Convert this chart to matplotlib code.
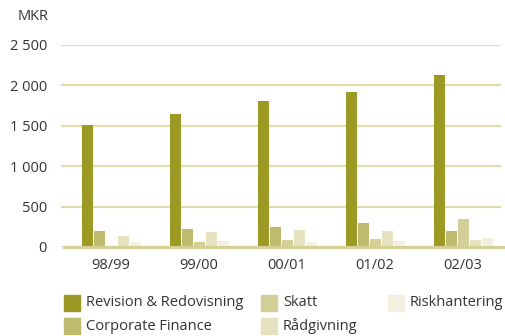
import numpy as np
import matplotlib.pyplot as plt
from matplotlib.patches import Rectangle
from matplotlib.ticker import FuncFormatter

plt.rcParams["font.family"] = ["Open Sans", "DejaVu Sans"]

years = ["98/99", "99/00", "00/01", "01/02", "02/03"]
series = ["Revision & Redovisning", "Corporate Finance", "Skatt", "Rådgivning", "Riskhantering"]
revision = [1510, 1650, 1810, 1920, 2130]
corporate = [200, 225, 250, 300, 200]
skatt = [0, 60, 85, 100, 345]
radgivning = [140, 185, 210, 200, 85]
risk = [60, 75, 60, 75, 110]
colors = ["#9c9a24", "#bfbb6e", "#d4cf96", "#e6e2c0", "#f3f0e2"]

W, H = 505, 336
fs = 10.5
fig = plt.figure(figsize=(W / 100, H / 100), dpi=100)
ax = fig.add_axes([61 / W, (H - 247) / H, 440 / W, 202 / H])

x = np.arange(len(years))
step = 12 / 88
width = 11 / 88
values = [revision, corporate, skatt, radgivning, risk]
for i, (vals, c) in enumerate(zip(values, colors)):
    ax.bar(x + (i - 2) * step, vals, width, color=c, zorder=3)

ax.set_xlim(-50 / 88, 390 / 88)
ax.set_ylim(0, 2500)
ax.set_yticks(np.arange(0, 2501, 500))
ax.yaxis.set_major_formatter(FuncFormatter(lambda v, p: f"{int(v):,}".replace(",", " ")))
ax.set_xticks(x)
ax.set_xticklabels(years)
ax.grid(axis="y", color="#e0dcae", lw=1.6, zorder=0)
ax.axhline(0, color="#d4cf96", lw=2.2, zorder=4, xmin=3 / 440, xmax=1.01, clip_on=False)
for s in ax.spines.values():
    s.set_visible(False)
ax.tick_params(length=0, labelsize=fs, colors="#333333")
ax.tick_params(axis="y", pad=10)
ax.tick_params(axis="x", pad=8)
fig.text(49 / W, 1 - 17 / H, "MKR", ha="right", va="center", fontsize=fs, color="#333333")

# legend, column-major like the original
leg_pos = [(64, 303), (64, 326), (261, 303), (261, 326), (388, 303)]
for name, c, (lx, ly) in zip(series, colors, leg_pos):
    fig.add_artist(Rectangle((lx / W, 1 - (ly + 8) / H), 16 / W, 16 / H,
                             transform=fig.transFigure, color=c))
    fig.text((lx + 22) / W, 1 - ly / H, name, va="center", fontsize=fs, color="#333333")

fig.savefig("out.png", dpi=100)
